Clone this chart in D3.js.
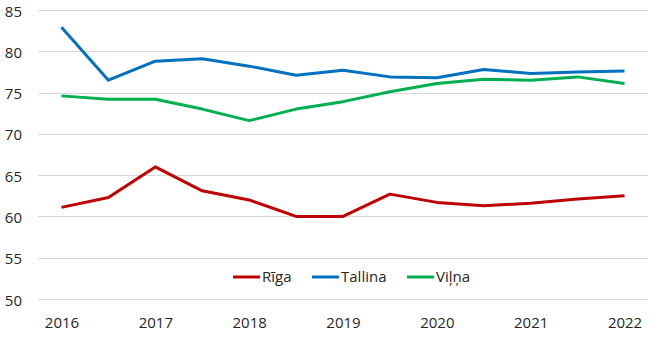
<!DOCTYPE html>
<html>
<head>
<meta charset="utf-8">
<script src="https://cdn.jsdelivr.net/npm/d3@7"></script>
<style>
  body { margin: 0; background: #fff; }
  svg text { font-family: "Open Sans", "Noto Sans", sans-serif; fill: #262626; }
</style>
</head>
<body>
<div id="viz"></div>
<script>
// half-year steps, labelled on whole years only
const periods = ['2016', '2016.5', '2017', '2017.5', '2018', '2018.5', '2019',
  '2019.5', '2020', '2020.5', '2021', '2021.5', '2022'];
const periodLabels = ['2016', '', '2017', '', '2018', '', '2019', '', '2020', '', '2021', '', '2022'];
const yTicks = [50, 55, 60, 65, 70, 75, 80, 85];

const riga = [61.1, 62.3, 66.0, 63.1, 62.0, 60.0, 60.0, 62.7, 61.7, 61.3, 61.6, 62.1, 62.5];
const tallina = [82.9, 76.5, 78.8, 79.1, 78.2, 77.1, 77.7, 76.9, 76.8, 77.8, 77.3, 77.5, 77.6];
const vilna = [74.6, 74.2, 74.2, 73.0, 71.6, 73.0, 73.9, 75.1, 76.1, 76.6, 76.5, 76.9, 76.1];

const seriesNames = ['Rīga', 'Tallina', 'Viļņa'];
const seriesValues = [riga, tallina, vilna];
const seriesColors = ['#C00000', '#0070C0', '#00B050'];

const width = 654;
const height = 338;
const margin = {left: 38, right: 6, top: 10, bottom: 39};
const fontSize = '15px';

const svg = d3.select('#viz').append('svg')
  .attr('width', width)
  .attr('height', height);

const x = d3.scalePoint()
  .domain(periods)
  .range([margin.left, width - margin.right])
  .padding(0.5);

const y = d3.scaleLinear()
  .domain([50, 85])
  .range([height - margin.bottom, margin.top]);

// gridlines
svg.append('g')
  .selectAll('line')
  .data(yTicks)
  .join('line')
  .attr('x1', margin.left)
  .attr('x2', width - margin.right)
  .attr('y1', d => Math.round(y(d)) + 0.5)
  .attr('y2', d => Math.round(y(d)) + 0.5)
  .style('stroke', '#D9D9D9')
  .style('stroke-width', 1);

// y axis labels
const yAxis = svg.append('g')
  .attr('transform', `translate(${margin.left - 16},0)`)
  .call(d3.axisLeft(y).tickValues(yTicks).tickSize(0).tickPadding(0));
yAxis.select('.domain').remove();
yAxis.selectAll('text').style('font-size', fontSize).attr('dy', '0.4em');

// x axis labels
const xAxis = svg.append('g')
  .attr('transform', `translate(0,${height - margin.bottom + 14})`)
  .call(d3.axisBottom(x).tickSize(0).tickPadding(4)
    .tickFormat((d, i) => periodLabels[i]));
xAxis.select('.domain').remove();
xAxis.selectAll('text').style('font-size', fontSize);

const line = d3.line()
  .x((d, i) => x(periods[i]))
  .y(d => y(d));

seriesValues.forEach((vals, i) => {
  svg.append('path')
    .attr('d', line(vals))
    .style('fill', 'none')
    .style('stroke', seriesColors[i])
    .style('stroke-width', 3)
    .style('stroke-linejoin', 'round');
});

// legend
const legendX = [233, 312, 407];
const legendY = 277;
const legend = svg.append('g');
seriesNames.forEach((name, i) => {
  legend.append('line')
    .attr('x1', legendX[i])
    .attr('x2', legendX[i] + 27)
    .attr('y1', legendY)
    .attr('y2', legendY)
    .style('stroke', seriesColors[i])
    .style('stroke-width', 3);
  legend.append('text')
    .attr('x', legendX[i] + 29)
    .attr('y', legendY)
    .attr('dy', '0.35em')
    .style('font-size', fontSize)
    .text(name);
});
</script>
</body>
</html>
